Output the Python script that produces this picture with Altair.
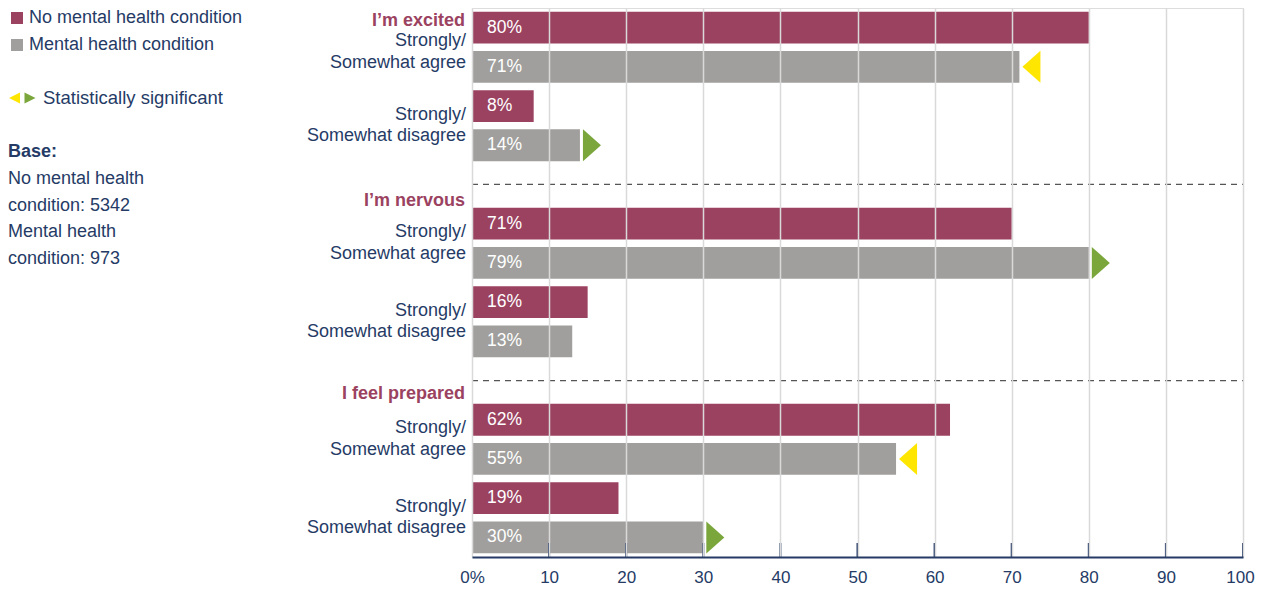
import altair as alt
import pandas as pd

# ---------------- data ----------------
groups = ["I’m excited", "I’m nervous", "I feel prepared"]
responses = ["Strongly/\nSomewhat agree", "Strongly/\nSomewhat disagree"]
conditions = ["No mental health condition", "Mental health condition"]

# bar lengths as drawn (group -> response -> [no condition, condition])
bar_values = [
    [[80, 71], [8, 14]],
    [[70, 80], [15, 13]],
    [[62, 55], [19, 30]],
]
# printed value labels
bar_labels = [
    [["80%", "71%"], ["8%", "14%"]],
    [["71%", "79%"], ["16%", "13%"]],
    [["62%", "55%"], ["19%", "30%"]],
]
# statistically significant markers on the "Mental health condition" bar
significance = [
    [[None, "lower"], [None, "higher"]],
    [[None, "higher"], [None, None]],
    [[None, "lower"], [None, "higher"]],
]
x_ticks = [0, 10, 20, 30, 40, 50, 60, 70, 80, 90, 100]
sig_label = "Statistically significant"
base_title = "Base:"
base_lines = "No mental health\ncondition: 5342\nMental health\ncondition: 973"

# ---------------- styling ----------------
PURPLE = "#9B4261"
GRAY = "#A09F9D"
NAVY = "#253B66"
YELLOW = "#FFE600"
GREEN = "#7AA63B"
FONT = "Liberation Sans"
W, H = 771, 549
SLOTS = 14

rows = []
for g, grp in enumerate(groups):
    for r, resp in enumerate(responses):
        for c, cond in enumerate(conditions):
            rows.append(dict(g=g, r=r, c=c, group=grp, response=resp, condition=cond,
                             value=bar_values[g][r][c], label=bar_labels[g][r][c],
                             sig=significance[g][r][c] or "none"))
df = pd.DataFrame(rows)
resp_df = pd.DataFrame([dict(g=g, r=r, response=resp)
                        for g in range(len(groups)) for r, resp in enumerate(responses)])
grp_df = pd.DataFrame([dict(g=g, group=grp) for g, grp in enumerate(groups)])
tick_df = pd.DataFrame({"t": x_ticks[1:]})
one = pd.DataFrame({"k": [0]})

yscale = alt.Scale(domain=[0, SLOTS], reverse=True, nice=False, zero=False)
xscale = alt.Scale(domain=[0, 100], nice=False)

base = alt.Chart(df).transform_calculate(
    slot="datum.g*5 + datum.r*2 + datum.c"
).transform_calculate(
    y0="datum.slot + 0.095", y1="datum.slot + 0.905", ym="datum.slot + 0.5"
)

bars = base.mark_bar().encode(
    x=alt.X("value:Q", scale=xscale,
            axis=alt.Axis(values=x_ticks, grid=True, gridColor="#D9D9D9", gridWidth=1.5,
                          ticks=False, tickSize=0, labelPadding=12, labelFontSize=17,
                          labelFlush=False, labelColor=NAVY, labelFont=FONT,
                          labelOffset={"condition": {"test": "datum.value == 100", "value": -3},
                                       "value": 0},
                          domainColor=NAVY, domainWidth=2, title=None, zindex=1,
                          labelExpr="datum.value == 0 ? '0%' : datum.label")),
    x2=alt.datum(0),
    y=alt.Y("y0:Q", scale=yscale,
            axis=alt.Axis(title=None, labels=False, ticks=False, grid=False,
                          domainColor=NAVY, domainWidth=2)),
    y2="y1:Q",
    color=alt.Color("condition:N",
                    scale=alt.Scale(domain=conditions, range=[PURPLE, GRAY]),
                    legend=alt.Legend(title=None, orient="none", legendX=-464, legendY=1,
                                      padding=0, symbolType="square", symbolSize=144,
                                      symbolStrokeWidth=0, labelFontSize=18,
                                      labelColor=NAVY, labelFont=FONT, rowPadding=9,
                                      labelOffset=3, labelLimit=0)),
)

values = base.mark_text(align="left", baseline="middle", dx=15, color="white",
                        fontSize=17.5, font=FONT).encode(
    x=alt.datum(0), y=alt.Y("ym:Q", axis=None), text="label:N")

TRI_RIGHT = "M-0.5625,-1L0.5625,0L-0.5625,1Z"
TRI_LEFT = "M0.5625,-1L-0.5625,0L0.5625,1Z"

tri_hi = base.transform_filter("datum.sig == 'higher'").mark_point(
    shape=TRI_RIGHT, size=1024, filled=True, opacity=1, color=GREEN, strokeWidth=0,
    xOffset=12).encode(x="value:Q", y=alt.Y("ym:Q", axis=None))
tri_lo = base.transform_filter("datum.sig == 'lower'").mark_point(
    shape=TRI_LEFT, size=1024, filled=True, opacity=1, color=YELLOW, strokeWidth=0,
    xOffset=12).encode(x="value:Q", y=alt.Y("ym:Q", axis=None))

dashes = alt.Chart(grp_df).transform_filter("datum.g > 0").transform_calculate(
    yd="datum.g*5 - 0.5").mark_rule(strokeDash=[6, 5], color="#555555",
                                     strokeWidth=1.3).encode(
    x=alt.datum(0), x2=alt.datum(100), y=alt.Y("yd:Q", axis=None))

headers = alt.Chart(grp_df).transform_calculate(
    yh="max(datum.g*5 - 0.07 - (datum.g == 2 ? 0.08 : 0), 0.33)").mark_text(
    align="right", baseline="middle", dx=-7, fontSize=18, fontWeight="bold",
    color=PURPLE, font=FONT).encode(x=alt.datum(0), y=alt.Y("yh:Q", axis=None),
                                    text="group:N")

# first line of each two-line label sits half a line above the pair centre
resp_labels = alt.Chart(resp_df).transform_calculate(
    yr="datum.g*5 + datum.r*2 + 0.72 + (datum.g == 0 && datum.r == 0 ? 0.12 : 0)").mark_text(
    align="right", baseline="middle", dx=-6, fontSize=18, lineBreak="\n",
    lineHeight=21.7, color=NAVY, font=FONT).encode(
    x=alt.datum(0), y=alt.Y("yr:Q", axis=None), text="response:N")

inner_ticks = alt.Chart(tick_df).mark_rule(color=NAVY, strokeWidth=2).encode(
    x="t:Q", y=alt.value(H - 14), y2=alt.value(H))

leg_lo = alt.Chart(one).mark_point(shape="M1,-1L-1,0L1,1Z", size=121, filled=True,
                                   opacity=1, color=YELLOW, strokeWidth=0).encode(
    x=alt.value(-457.5), y=alt.value(90))
leg_hi = alt.Chart(one).mark_point(shape="M-1,-1L1,0L-1,1Z", size=121, filled=True,
                                   opacity=1, color=GREEN, strokeWidth=0).encode(
    x=alt.value(-442), y=alt.value(90))
leg_text = alt.Chart(one).mark_text(align="left", baseline="middle", fontSize=18.5,
                                    color=NAVY, font=FONT, text=sig_label).encode(
    x=alt.value(-429), y=alt.value(90))
base_t = alt.Chart(one).mark_text(align="left", baseline="middle", fontSize=18,
                                  fontWeight="bold", color=NAVY, font=FONT,
                                  text=base_title).encode(
    x=alt.value(-464), y=alt.value(144))
base_b = alt.Chart(one).mark_text(align="left", baseline="middle", fontSize=18,
                                  color=NAVY, font=FONT, lineBreak="\n", lineHeight=26.7,
                                  text=base_lines).encode(
    x=alt.value(-464), y=alt.value(171))

chart = alt.layer(
    bars, values, tri_hi, tri_lo, dashes, headers, resp_labels, inner_ticks,
    leg_lo, leg_hi, leg_text, base_t, base_b
).properties(
    width=W, height=H,
    padding={"left": 0, "top": 0, "right": 0, "bottom": 0},
).configure_view(stroke=None).configure(font=FONT)

chart.save("out.html", embed_options={"renderer": "svg", "actions": False})
